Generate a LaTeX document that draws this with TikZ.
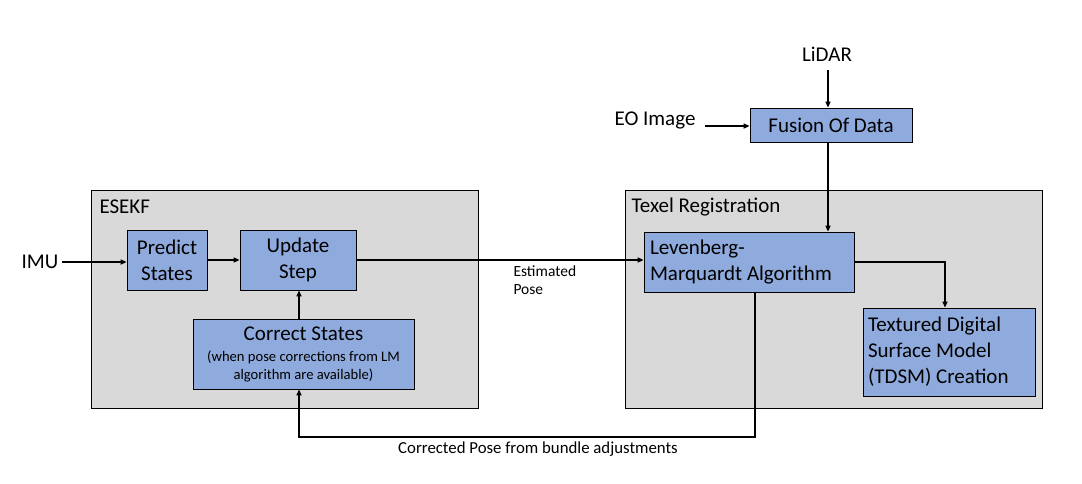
\documentclass[tikz,border=0pt]{standalone}
\usepackage{fontspec}
\setmainfont{Carlito}
\usepackage{tikz}
\usetikzlibrary{arrows.meta,positioning}

\definecolor{boxblue}{HTML}{8FAADC}
\definecolor{panelgrey}{HTML}{D9D9D9}
\tikzset{
  group/.style={draw=black, fill=panelgrey, line width=0.8pt},
  block/.style={draw=black, fill=boxblue, line width=0.8pt, font=\fontsize{21}{26}\selectfont, align=center, inner sep=2pt},
  leftblock/.style={block, align=flush left, execute at begin node={\spaceskip=0pt\relax}},
  flow/.style={-{Triangle[length=6pt,width=5pt]}, line width=1.8pt},
  tag/.style={font=\fontsize{21}{26}\selectfont},
  note/.style={font=\fontsize{15.5}{21}\selectfont},
}

\begin{document}
\begin{tikzpicture}[x=1pt,y=-1pt]
			\useasboundingbox (0,0) rectangle (1082,483);
			% panels
			\draw[group] (91,190) rectangle (478,408);
			\draw[group] (625,190) rectangle (1042,408);
			\node[tag, anchor=west] (esekf) at (96,207) {ESEKF};
			\node[tag, anchor=west] (texel) at (628,207) {Texel Registration};
			% blocks
			\node[block, minimum width=80pt, minimum height=60pt] (predict) at (167,260) {Predict\\States};
			\node[block, minimum width=116pt, minimum height=60pt] (update) at (298,260) {Update\\Step};
			\node[block, minimum width=221pt, minimum height=70pt] (correct) at (303.5,354)
				{Correct States\\[-5pt]{\fontsize{14.6}{17}\selectfont (when pose corrections from LM}\\[-8pt]{\fontsize{14.6}{17}\selectfont algorithm are available)}};
			\node[leftblock, minimum width=210pt, minimum height=60pt, text width=198pt] (lm) at (749,262) {Levenberg-\\Marquardt Algorithm};
			\node[leftblock, minimum width=172pt, minimum height=88pt, text width=162pt] (tdsm) at (949,352) {Textured Digital\\Surface Model\\(TDSM) Creation};
			\node[block, minimum width=162pt, minimum height=34pt] (fusion) at (831,125) {Fusion Of Data};
			% inputs
			\node[tag] (imu) at (40,262) {IMU};
			\node[tag] (lidar) at (827,54) {LiDAR};
			\node[tag] (eo) at (655,120) {EO Image};
			\coordinate (lidarend) at (828,70);
			\coordinate (eoend) at (705,126);
			% connectors
			\draw[flow] (imu.east) -- (imu.east -| predict.west);
			\draw[flow] (predict.east) -- (predict.east -| update.west);
			\draw[flow] (correct.north -| 299,0) -- (update.south -| 299,0);
			\draw[flow] (lidarend) -- (lidarend |- fusion.north);
			\draw[flow] (eoend) -- (eoend -| fusion.west);
			\draw[flow] (fusion.south -| 828,0) -- (lm.north -| 828,0);
			\draw[flow] (update.east) -- (update.east -| lm.west);
			\node[note, align=left, anchor=north west] (estpose) at (510,262) {Estimated\\[-3pt]Pose};
			\draw[flow] (lm.east) -| (tdsm.north -| 945,0);
			\draw[flow] (lm.south -| 755,0) -- (755,437) -- (299,437)
				node[midway, below=1pt, xshift=11pt, font=\fontsize{16.8}{20}\selectfont] {Corrected Pose from bundle adjustments}
				-- (correct.south -| 299,0);
		\end{tikzpicture}
\end{document}
